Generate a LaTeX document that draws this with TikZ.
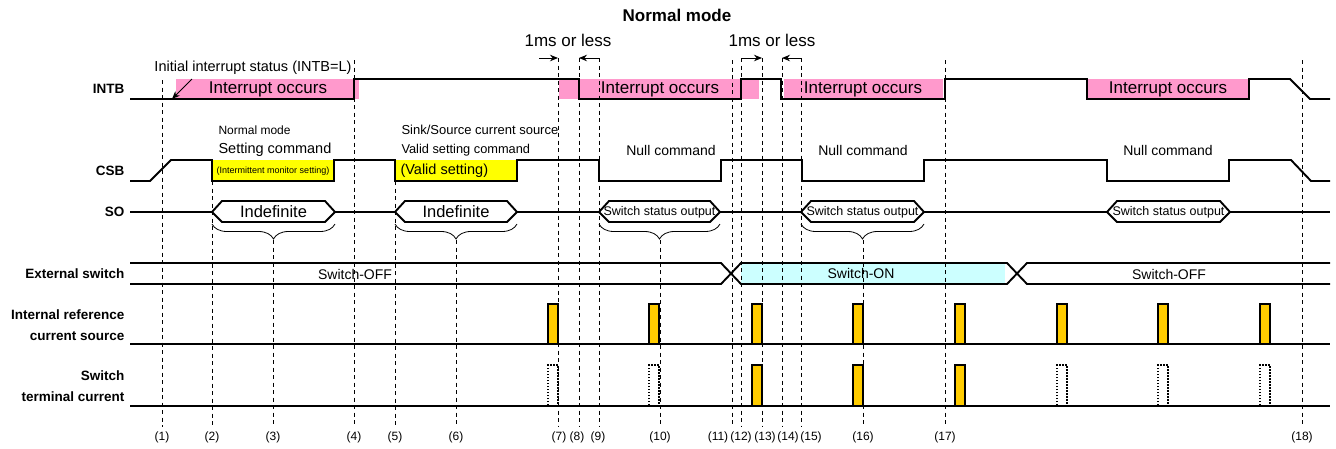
\documentclass[tikz,border=0pt]{standalone}
\usepackage{fontspec}
\setmainfont{Liberation Sans}
\usepackage{xcolor}
\definecolor{intpink}{RGB}{255,153,204}
\definecolor{cmdyellow}{RGB}{255,255,0}
\definecolor{pulseyellow}{RGB}{255,204,0}
\definecolor{swcyan}{RGB}{204,255,255}
\usetikzlibrary{arrows.meta, decorations.pathreplacing}
\newcommand{\fsz}[1]{\fontsize{#1}{#1}\selectfont}

\begin{document}
\begin{tikzpicture}[x=1pt, y=-1pt,
  sig/.style={line width=1.9pt, line join=miter},
  guide/.style={line width=0.9pt, dash pattern=on 4pt off 3.5pt},
  ghost/.style={line width=1.4pt, dash pattern=on 1.5pt off 1.5pt},
  rowlbl/.style={anchor=east, align=right, font=\fontsize{13.5}{20.5}\selectfont\bfseries},
  brc/.style={decorate, decoration={brace, mirror, amplitude=15pt}, line width=0.8pt},
  tarrow/.style={-{Stealth[length=8pt, width=6.5pt]}, line width=1pt},
  numlbl/.style={font=\fsz{12}},
  txt/.style={font=\fsz{#1}}
]
\useasboundingbox (0,0) rectangle (1336,448);

% Row labels
\node[rowlbl] (lintb) at (128,89) {INTB};
\node[rowlbl] (lcsb) at (128,171) {CSB};
\node[rowlbl] (lso) at (128,212) {SO};
\node[rowlbl] (lext) at (128,274) {External switch};
\node[rowlbl] (lref) at (128,325) {Internal reference\\current source};
\node[rowlbl] (lsw) at (128,386) {Switch\\terminal current};

% Fills
\foreach \a/\b in {176/359, 559/759, 784/943, 1087/1249}
  \fill[intpink] (\a,79) rectangle (\b,99);
\fill[cmdyellow] (212,160) rectangle (335,181);
\fill[cmdyellow] (395,160) rectangle (517,181);
\fill[swcyan] (741,263) rectangle (1005,284);

% Timing guides
\foreach \n/\x/\t in {1/162/80, 2/212/181, 3/273/240, 4/354/60, 5/395/181, 6/456/240,
    7/558/58, 8/579/58, 9/599/58, 10/660/240, 11/732/60, 12/741/58, 13/762/58,
    14/782/58, 15/801/58, 16/863/240, 17/945/60, 18/1302/60} {
  \coordinate (top\n) at (\x,\t);
  \draw[guide] (top\n) -- (\x,427);
}
\foreach \n/\x in {1/162, 2/212, 3/273, 4/354, 5/395, 6/456, 7/559, 8/577, 9/598,
    10/660, 11/718, 12/741, 13/765, 14/788, 15/811, 16/863, 17/945, 18/1302}
  \node[numlbl] (n\n) at (\x,437) {(\n)};

% Title and time limits
\node[font=\fsz{17}\bfseries] (title) at (677,15) {Normal mode};
\node[txt=17] (ms1) at (568,40) {1ms or less};
\node[txt=17] (ms2) at (772,40) {1ms or less};
\coordinate (ms1start) at (539,58);
\draw[tarrow] (ms1start) -- (top7);
\draw[tarrow] (top9) -- (top8);
\draw[tarrow] (top12) -- (top13);
\draw[tarrow] (top15) -- (top14);

% INTB
\node[txt=14.5] (init) at (253,68) {Initial interrupt status (INTB=L)};
\coordinate (inita) at (192,79);
\coordinate (initb) at (172,99);
\draw[tarrow] (inita) -- (initb);
\draw[sig] (130,99) -- (354,99) -- (354,79) -- (579,79) -- (579,99) -- (741,99)
  -- (741,79) -- (781,79) -- (781,99) -- (945,99) -- (945,79) -- (1087,79)
  -- (1087,99) -- (1249,99) -- (1249,79) -- (1290,79) -- (1310,99) -- (1330,99);
\foreach \x [count=\i] in {268, 660, 863, 1168}
  \node[txt=17] (irq\i) at (\x,89) {Interrupt occurs};

% CSB
\node[txt=12, anchor=west] (cmd1a) at (215,130) {Normal mode};
\node[txt=14.5, anchor=west] (cmd1b) at (215,150) {Setting command};
\node[txt=13, anchor=west] (cmd2a) at (398,130) {Sink/Source current source};
\node[txt=12.8, anchor=west] (cmd2b) at (398,150) {Valid setting command};
\foreach \x [count=\i] in {671, 863, 1168}
  \node[txt=14] (null\i) at (\x,150) {Null command};
\draw[sig] (130,181) -- (150,181) -- (171,160) -- (212,160) -- (212,181) -- (334,181)
  -- (334,160) -- (395,160) -- (395,181) -- (517,181) -- (517,160) -- (599,160)
  -- (599,181) -- (721,181) -- (721,160) -- (802,160) -- (802,181) -- (924,181)
  -- (924,160) -- (1107,160) -- (1107,181) -- (1229,181) -- (1229,160) -- (1291,160)
  -- (1311,181) -- (1330,181);
\node[txt=9] (set1) at (273,171) {(Intermittent monitor setting)};
\node[txt=14.5, anchor=west] (set2) at (397,171) {(Valid setting)};

% SO
\draw[sig] (130,212) -- (1330,212);
\foreach \a/\b/\txt/\s [count=\i] in {212/335/Indefinite/16.5, 395/517/Indefinite/16.5,
    599/720/Switch status output/12.5, 801/924/Switch status output/12.5,
    1107/1230/Switch status output/12.5} {
  \filldraw[sig, fill=white] (\a,212) -- (\a+10,201) -- (\b-10,201) -- (\b,212)
    -- (\b-10,222) -- (\a+10,222) -- cycle;
  \node[txt=\s] (so\i) at ({(\a+\b)/2},212) {\txt};
}
\foreach \a/\b in {212/335, 395/517, 599/720, 801/924}
  \draw[brc] (\a,224) -- (\b,224);

% External switch
\draw[sig] (130,263) -- (721,263) -- (741,284) -- (1007,284) -- (1027,263) -- (1330,263);
\draw[sig] (130,284) -- (721,284) -- (741,263) -- (1007,263) -- (1027,284) -- (1330,284);
\node[txt=14] (off1) at (355,274) {Switch-OFF};
\node[txt=14] (on1) at (861,273) {Switch-ON};
\node[txt=14] (off2) at (1169,274) {Switch-OFF};

% Internal reference current source
\draw[sig] (130,344) -- (1330,344);
\foreach \r in {558, 659, 762, 863, 965, 1067, 1168, 1270} {
  \fill[pulseyellow] (\r-10,304) rectangle (\r,343);
  \draw[sig] (\r-10,344) -- (\r-10,304) -- (\r,304) -- (\r,344);
}

% Switch terminal current
\draw[sig] (130,406) -- (1330,406);
\foreach \r in {762, 863, 965} {
  \fill[pulseyellow] (\r-10,365) rectangle (\r,405);
  \draw[sig] (\r-10,406) -- (\r-10,365) -- (\r,365) -- (\r,406);
}
\foreach \r in {558, 659, 1067, 1168, 1270}
  \draw[ghost] (\r-10,405) -- (\r-10,365) -- (\r,365) -- (\r,405);
\end{tikzpicture}
\end{document}
